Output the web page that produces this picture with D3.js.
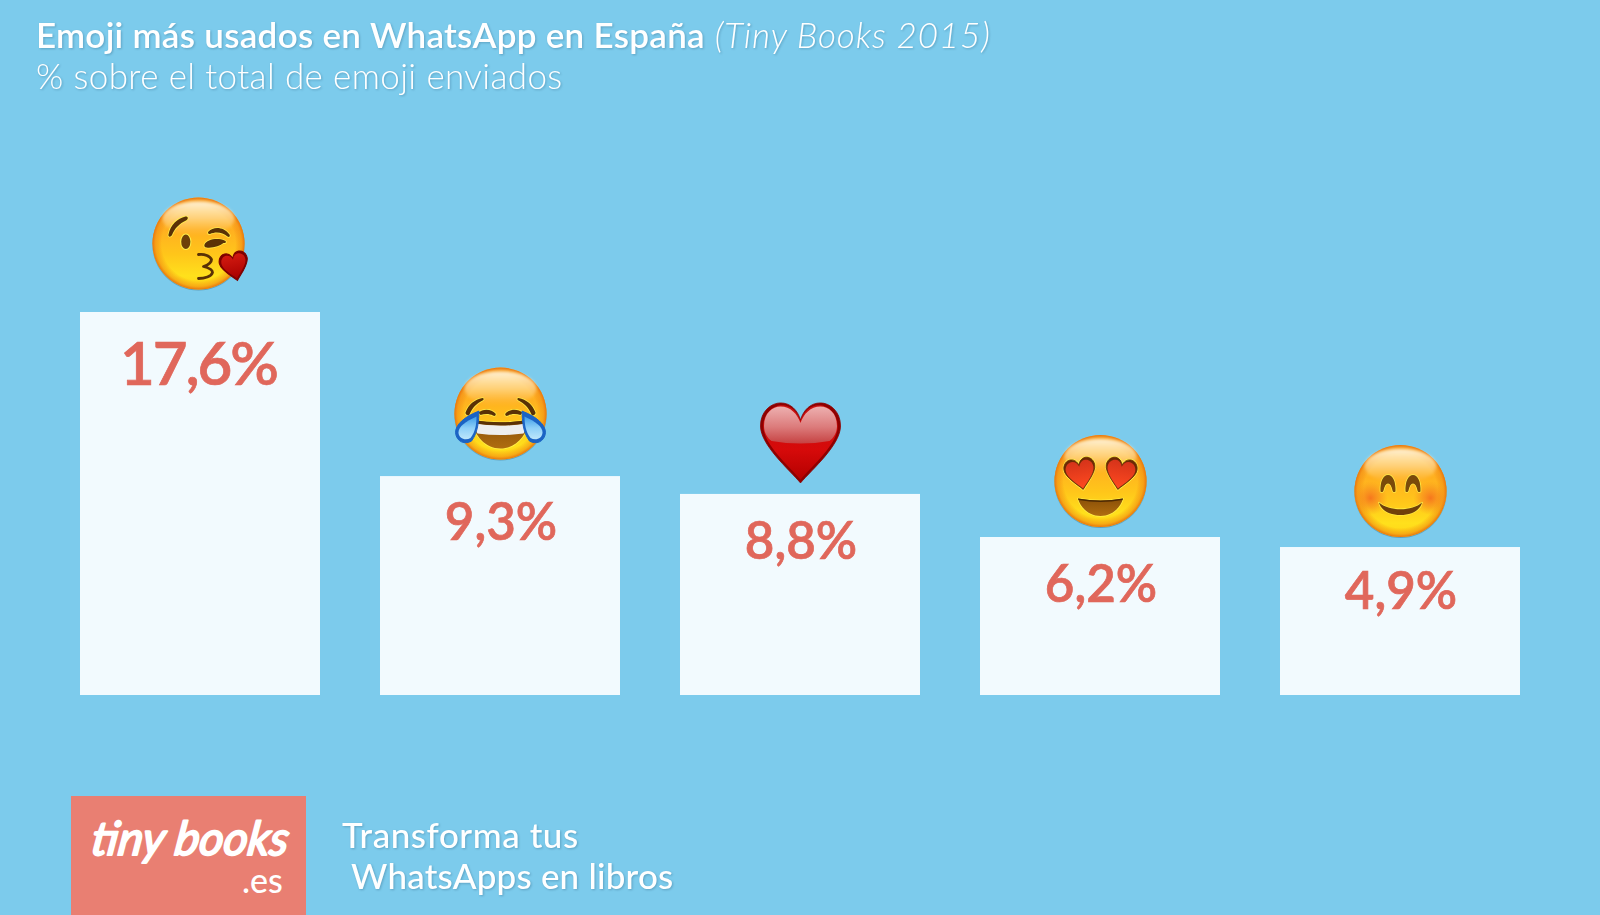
<!DOCTYPE html>
<html lang="es">
<head>
<meta charset="utf-8">
<title>Emoji más usados en WhatsApp en España</title>
<script src="https://cdnjs.cloudflare.com/ajax/libs/d3/7.8.5/d3.min.js"></script>
<style>
html,body{margin:0;padding:0;background:#7CCBEC;overflow:hidden}
svg{display:block}
text{font-family:Lato,"Open Sans",sans-serif}
.shadow{filter:drop-shadow(1px 1.5px 1px rgba(40,90,120,.35))}
</style>
</head>
<body>
<script>
// Data
const emojiNames = ["kiss", "joy", "heart", "hearteyes", "smile"];
const percentLabels = ["17,6%", "9,3%", "8,8%", "6,2%", "4,9%"];
// The bars in the source are not proportional to their printed labels: these are the
// heights actually drawn, expressed on the scale set by the first bar (17.6).
const drawnHeights = [17.6, 10.06, 9.24, 7.26, 6.8];

const titleBold = "Emoji más usados en WhatsApp en España";
const titleItalic = "(Tiny Books 2015)";
const subtitle = "% sobre el total de emoji enviados";
const footerLines = ["Transforma tus", "WhatsApps en libros"];
const logoWord = "tiny books";
const logoDomain = ".es";

// Layout (kept apart from the data)
const W = 1600, H = 915;
const labelDrop = [73, 63.5, 65, 64.5, 61.5];
const labelSize = [60, 51, 51, 51, 51];
const labelTrack = [-2, 0, 0, 0, 0];
const labelShift = [-1.5, 1, 1, 1, 1];
const emojiLift = [68.5, 62.5, 51, 56, 56];
const emojiShift = [-1.5, .5, .5, .5, .5];

const svg = d3.select("body").append("svg").attr("width", W).attr("height", H);
svg.append("rect").attr("width", W).attr("height", H).attr("fill", "#7CCBEC");

const x = d3.scaleBand().domain(emojiNames).range([50, 1550]).paddingInner(0.2).paddingOuter(0.1);
const y = d3.scaleLinear().domain([0, 17.6]).range([695, 312]);

/* ---------- gradients ---------- */
const defs = svg.append("defs");
function linear(id, stops, x2 = 0, y2 = 1) {
  const g = defs.append("linearGradient").attr("id", id).attr("x1", 0).attr("y1", 0).attr("x2", x2).attr("y2", y2);
  stops.forEach(s => g.append("stop").attr("offset", s[0]).attr("stop-color", s[1]).attr("stop-opacity", s[2] ?? 1));
}
function radial(id, stops, r = 0.5) {
  const g = defs.append("radialGradient").attr("id", id).attr("r", r);
  stops.forEach(s => g.append("stop").attr("offset", s[0]).attr("stop-color", s[1]).attr("stop-opacity", s[2] ?? 1));
}
linear("faceG", [[0, "#FFC04A"], [.35, "#FFB020"], [.62, "#FFC61A"], [.85, "#FFE01C"], [1, "#FFD516"]]);
radial("rimG", [[0, "#F07A10", 0], [.8, "#F07A10", 0], [.93, "#F08A12", .55], [1, "#E8740E", 1]]);
linear("shineG", [[0, "#FFF4DC", .95], [.5, "#FFE3A8", .6], [1, "#FFD070", 0]]);
radial("cheekG", [[0, "#F4641E", .8], [.55, "#F57A20", .45], [1, "#F58A20", 0]]);
linear("heartBaseG", [[0, "#C81010"], [.6, "#D60A0A"], [1, "#B40000"]]);
linear("heartShineG", [[0, "#EDB0B0"], [.55, "#DC7C7C"], [1, "#C64242"]]);
linear("smallHeartG", [[0, "#D21A10"], [1, "#A80000"]]);
linear("eyeHeartG", [[0, "#D5331A"], [1, "#FF4A20"]]);
linear("tearG", [[0, "#3E9CE8"], [.5, "#8ED0F8"], [1, "#BDE6FB"]]);
linear("mouthG", [[0, "#8A5008"], [1, "#B06D10"]]);
defs.append("filter").attr("id", "softBlur").attr("x", "-20%").attr("y", "-20%").attr("width", "140%").attr("height", "140%")
  .append("feGaussianBlur").attr("stdDeviation", 1.6);

/* ---------- emoji parts (local coordinates, radius 46) ---------- */
const BROWN = "#5A3106", GLOW = "#FFF04A";
function p(g, d, fill, extra = {}) {
  const e = g.append("path").attr("d", d).attr("fill", fill);
  Object.entries(extra).forEach(([k, v]) => e.attr(k, v));
  return e;
}
function glowed(g, d, fill) {
  p(g, d, "none", {stroke: GLOW, "stroke-width": 1.6, "stroke-linejoin": "round", opacity: .9});
  p(g, d, fill);
}
function face(g) {
  g.append("circle").attr("cy", .8).attr("r", 46.2).attr("fill", "#4C7C96").attr("opacity", .55);
  g.append("circle").attr("r", 46).attr("fill", "url(#faceG)");
  g.append("circle").attr("r", 46).attr("fill", "url(#rimG)");
  g.append("ellipse").attr("cy", -25).attr("rx", 36).attr("ry", 17).attr("fill", "url(#shineG)").attr("filter", "url(#softBlur)");
}
const HEART = "M0,40 C-12,26 -40,2 -40,-17 C-40,-32 -29,-40 -20,-40 C-10,-40 -3,-33 0,-23 C3,-33 10,-40 20,-40 C29,-40 40,-32 40,-17 C40,2 12,26 0,40Z";

const draw = {
  kiss(g) {
    face(g);
    glowed(g, "M-30,-9 C-28,-19 -21,-25 -13,-27 C-10,-27 -10,-24.5 -12.5,-23 C-19,-20 -24,-15 -26.5,-8.5 C-28,-6 -30.5,-6.5 -30,-9Z", BROWN);
    g.append("ellipse").attr("cx", -12.7).attr("cy", -1.7).attr("rx", 5.6).attr("ry", 8.3).attr("fill", GLOW);
    g.append("ellipse").attr("cx", -12.7).attr("cy", -1.7).attr("rx", 4.6).attr("ry", 7.3).attr("fill", "#6E4008");
    glowed(g, "M10,-12 C15,-17 25,-17 31,-9 C32,-7 30.5,-6 29,-7 C24,-11.5 17,-12 11.5,-9.5 C9.5,-9 9,-11 10,-12Z", BROWN);
    glowed(g, "M6,1 C8,-4 19,-6 26,-3 C28.5,-2 27.5,0 25,-.5 C22,2 14,5 8,4 C6,4 5.5,2.5 6,1Z", BROWN);
    p(g, "M0,11 C6,10 12,13 13,16 C13,20 8,22 5,23 C9,24 14,26 14,29 C13,33 6,35 0,35", "none",
      {stroke: BROWN, "stroke-width": 2.8, "stroke-linecap": "round", "stroke-linejoin": "round"});
    g.append("g").attr("transform", "translate(36,23) rotate(-12) scale(.355)").call(h => {
      p(h, HEART, "#7E0000", {stroke: "#7E0000", "stroke-width": 3});
      p(h, HEART, "url(#smallHeartG)", {transform: "scale(.86)"});
    });
  },
  joy(g) {
    face(g);
    [-1, 1].forEach(s => {
      const f = g.append("g").attr("transform", `scale(${s},1)`);
      glowed(f, "M-35,-1 C-32,-9 -26,-14 -18,-15.5 C-16.5,-15.5 -16.5,-13.5 -18,-13 C-24,-10 -28,-6 -31,1 C-32,3 -35.5,1 -35,-1Z", BROWN);
      glowed(f, "M-22,-1 C-18,-5 -9,-5 -5,0 C-4,2 -6,3 -7.5,2 C-11,0 -16,0 -20,1.5 Z", BROWN);
    });
    glowed(g, "M-28,6.5 Q0,11 28,6.5 C27,22 15,35 0,35 C-15,35 -27,22 -28,6.5Z", "url(#mouthG)");
    p(g, "M-26,10 Q0,14 26,10 C26,14 25,17 23,20 Q0,23 -23,20 C-25,17 -26,14 -26,10Z", "#EEEEEE");
    p(g, "M-28,6.5 Q0,11 28,6.5 L27.5,9.5 Q0,14 -27.5,9.5Z", BROWN);
    [-1, 1].forEach(s => {
      const f = g.append("g").attr("transform", `scale(${s},1)`);
      p(f, "M-21.5,-2.5 C-22,7 -22,18 -29,27.5 C-35,31 -44,29 -45,19 C-45,11 -36,3 -21.5,-2.5Z", "#1B63C4",
        {stroke: "#1B63C4", "stroke-width": 1, "stroke-linejoin": "round"});
      p(f, "M-24,3 C-24,10 -25,18 -30,24.5 C-35,27.5 -42,25 -42,19 C-42,13 -35,8 -24,3Z", "url(#tearG)");
    });
  },
  heart(g) {
    p(g, HEART, "#8E0000", {stroke: "#8E0000", "stroke-width": .8});
    p(g, HEART, "url(#heartBaseG)", {transform: "translate(0,-.5) scale(.93)"});
    p(g, "M-36.5,-17 C-36.5,-30 -28,-36.5 -20,-36.5 C-10,-36.5 -3,-29 0,-20 C3,-29 10,-36.5 20,-36.5 C28,-36.5 36.5,-30 36.5,-17 C36.5,-10 33,-5 29,-2 Q0,3 -29,-2 C-33,-5 -36.5,-10 -36.5,-17Z", "url(#heartShineG)");
  },
  hearteyes(g) {
    face(g);
    [-1, 1].forEach(s => {
      const f = g.append("g").attr("transform", `scale(${s},1) translate(-20,-7) rotate(-10) scale(.39)`);
      p(f, HEART, "none", {stroke: GLOW, "stroke-width": 6, "stroke-linejoin": "round"});
      p(f, HEART, "#6B2A04", {stroke: "#6B2A04", "stroke-width": 2});
      p(f, HEART, "url(#eyeHeartG)", {transform: "translate(0,2) scale(.9)"});
    });
    glowed(g, "M-22.5,17.5 Q0,21.5 22.5,17.5 C20,27 11,35 0,35 C-11,35 -20,27 -22.5,17.5Z", "url(#mouthG)");
    p(g, "M-22.5,17.5 Q0,21.5 22.5,17.5 L22,19 Q0,23 -22,19Z", "#4D2A04");
  },
  smile(g) {
    face(g);
    g.append("circle").attr("cx", -30).attr("cy", 7).attr("r", 17).attr("fill", "url(#cheekG)");
    g.append("circle").attr("cx", 30).attr("cy", 7).attr("r", 17).attr("fill", "url(#cheekG)");
    [-12.5, 12.5].forEach(cx => {
      const f = g.append("g").attr("transform", `translate(${cx},-7)`);
      glowed(f, "M-7.5,7.5 C-8,-2 -5,-9 0,-9 C5,-9 8,-2 7.5,7.5 C6,8.5 5,8 4.5,6.5 C3.5,2 2,-.5 0,-.5 C-2,-.5 -3.5,2 -4.5,6.5 C-5,8 -6,8.5 -7.5,7.5Z", "#7A4A0A");
    });
    glowed(g, "M-21.5,11.5 C-12,20.5 12,20.5 21.5,11.5 C20,19 11,24 0,24 C-11,24 -20,19 -21.5,11.5Z", "#70400A");
  }
};

/* ---------- bars, labels, emoji ---------- */
svg.append("g").selectAll("rect").data(emojiNames).join("rect")
  .attr("x", d => x(d)).attr("width", x.bandwidth())
  .attr("y", (d, i) => y(drawnHeights[i]))
  .attr("height", (d, i) => y(0) - y(drawnHeights[i]))
  .attr("fill", "#F2FAFE");

svg.append("g").selectAll("text").data(percentLabels).join("text")
  .attr("x", (d, i) => x(emojiNames[i]) + x.bandwidth() / 2 + labelShift[i])
  .attr("y", (d, i) => y(drawnHeights[i]) + labelDrop[i])
  .attr("text-anchor", "middle")
  .attr("font-size", (d, i) => labelSize[i])
  .attr("letter-spacing", (d, i) => labelTrack[i])
  .attr("font-weight", 600)
  .attr("fill", "#E0675B")
  .attr("stroke", "#E0675B")
  .attr("stroke-width", .7)
  .text(d => d);

svg.append("g").selectAll("g").data(emojiNames).join("g")
  .attr("transform", (d, i) => `translate(${x(d) + x.bandwidth() / 2 + emojiShift[i]},${y(drawnHeights[i]) - emojiLift[i]})`)
  .each(function (d) { draw[d](d3.select(this)); });

/* ---------- header ---------- */
const head = svg.append("g").attr("class", "shadow").attr("fill", "#fff");
const t = head.append("text").attr("x", 36).attr("y", 48).attr("font-size", 35);
t.append("tspan").attr("font-weight", 600).attr("letter-spacing", .28).text(titleBold);
t.append("tspan").attr("font-style", "italic").attr("font-weight", 300).attr("letter-spacing", .9).text(" " + titleItalic);
head.append("text").attr("x", 36).attr("y", 89).attr("font-size", 35).attr("font-weight", 300).attr("letter-spacing", .38).text(subtitle);

/* ---------- footer ---------- */
svg.append("rect").attr("x", 71).attr("y", 796).attr("width", 235).attr("height", H - 796).attr("fill", "#E97F72");
svg.append("text").attr("transform", "translate(90,855) skewX(-8)").attr("font-size", 47).attr("font-style", "italic")
  .attr("font-weight", 400).attr("fill", "#fff").attr("stroke", "#fff").attr("stroke-width", 2)
  .attr("stroke-linejoin", "round").attr("textLength", 197).attr("lengthAdjust", "spacingAndGlyphs").text(logoWord);
svg.append("text").attr("x", 242).attr("y", 893).attr("font-size", 34).attr("font-weight", 500).attr("fill", "#fff").text(logoDomain);

const foot = svg.append("g").attr("class", "shadow").attr("fill", "#fff").attr("font-size", 35).attr("font-weight", 500);
foot.append("text").attr("x", 342).attr("y", 848).attr("letter-spacing", .55).text(footerLines[0]);
foot.append("text").attr("x", 351).attr("y", 889).attr("letter-spacing", .2).text(footerLines[1]);
</script>
</body>
</html>
